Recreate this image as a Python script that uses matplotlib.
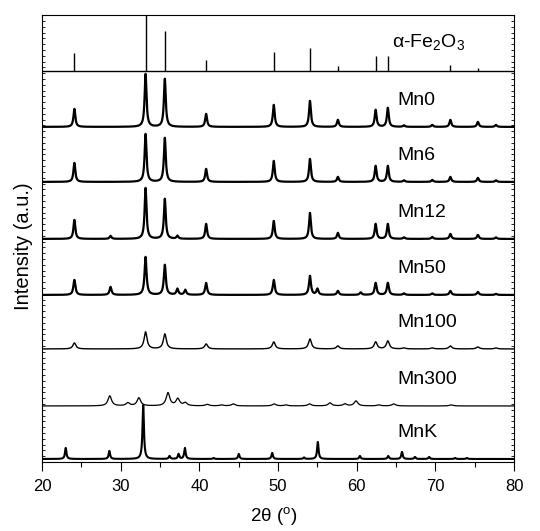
import numpy as np
import matplotlib
matplotlib.use("Agg")
import matplotlib.pyplot as plt
from matplotlib.ticker import MultipleLocator, NullLocator

plt.rcParams['font.family'] = ['Liberation Sans', 'DejaVu Sans']
plt.rcParams['mathtext.fontset'] = 'custom'
plt.rcParams['mathtext.rm'] = 'Liberation Sans'
plt.rcParams['mathtext.it'] = 'Liberation Sans:italic'

# reference stick pattern for alpha-Fe2O3 (2theta, relative intensity %)
ref_pos = [24.1, 33.15, 35.6, 40.85, 49.45, 54.05, 57.6, 62.4, 63.95, 71.9, 75.4]
ref_int = [32, 100, 72, 20, 34, 41, 9, 27, 26, 10, 5]

# measured patterns: peak positions, heights (a.u.), widths (deg)
samples = ["Mn0", "Mn6", "Mn12", "Mn50", "Mn100", "Mn300", "MnK"]
offsets = [335, 280, 223, 167, 113, 56, 3]

hem_pos = [24.1, 33.15, 35.6, 40.85, 49.45, 54.05, 57.6, 62.4, 63.95, 66.0, 69.6, 71.9, 75.4, 77.7]

mn0_h = [18, 53, 48, 13, 22, 26, 7, 17, 19, 1.5, 2, 7, 5, 2]
mn6_h = [19, 48, 44, 13, 21, 23, 5, 16, 16, 1.5, 2, 5, 4, 1.5]
mn12_pos = hem_pos + [28.7, 37.2]
mn12_h = [19, 51, 40, 15, 18, 26, 6, 15, 15, 1.5, 2, 5, 4, 1.5, 3, 3]
mn50_pos = hem_pos + [28.7, 37.2, 38.2, 55.0, 60.5]
mn50_h = [15, 38, 30, 12, 15, 19, 4, 12, 12, 1.5, 1.5, 4, 3, 1, 8, 6, 5, 6, 2.5]
mn100_h = [6, 17, 15, 5, 7, 10, 3, 7, 8, 1, 1, 3, 2, 1]

mn300_pos = [28.6, 30.9, 32.3, 36.0, 37.25, 38.2, 41.0, 42.8, 44.3, 49.5, 51.0,
             54.0, 56.6, 58.5, 59.9, 62.8, 64.7, 72.0]
mn300_h = [10, 3, 8, 13, 7, 3, 1.5, 1, 2, 2, 1, 2, 3, 2, 5, 1, 2, 1]

mnk_pos = [23.0, 28.55, 32.85, 36.2, 37.35, 38.15, 41.8, 45.0, 49.25, 53.3,
           55.05, 60.4, 64.0, 65.75, 67.4, 69.2, 72.5, 74.0]
mnk_h = [11, 8, 54, 3, 5, 11, 1, 5, 6, 1.5, 17, 3, 3, 7, 2, 2, 1, 1]

patterns = [
    (hem_pos, mn0_h, 0.28, 1.6),
    (hem_pos, mn6_h, 0.28, 1.6),
    (mn12_pos, mn12_h, 0.28, 1.6),
    (mn50_pos, mn50_h, 0.3, 1.6),
    (hem_pos, mn100_h, 0.45, 1.0),
    (mn300_pos, mn300_h, 0.55, 0.9),
    (mnk_pos, mnk_h, 0.22, 1.5),
]

ref_base = 391
ref_scale = 56 / 100.0

fig = plt.figure(figsize=(5.40, 5.31), dpi=100)
ax = fig.add_axes([0.078, 0.130, 0.874, 0.842])

tt = np.linspace(20, 80, 4000)
for name, off, (pos, h, w, lw) in zip(samples, offsets, patterns):
    y = np.zeros_like(tt)
    for p, a in zip(pos, h):
        y += a / (1 + ((tt - p) / (w / 2)) ** 2)
    ax.plot(tt, y + off, color='black', lw=lw)
    ax.text(65.1, off + 22, name, fontsize=14, va='baseline', ha='left')

# stick pattern
ax.vlines(ref_pos, ref_base, [ref_base + v * ref_scale for v in ref_int],
          color='black', lw=1.0)
ax.axhline(ref_base, color='black', lw=1.0)
ax.text(64.5, ref_base + 24, 'α-Fe$_{2}$O$_{3}$', fontsize=14, va='baseline', ha='left')

ax.set_xlim(20, 80)
ax.set_ylim(0, 447)
ax.xaxis.set_major_locator(MultipleLocator(10))
ax.xaxis.set_minor_locator(MultipleLocator(5))
ax.yaxis.set_major_locator(NullLocator())
ax.yaxis.set_minor_locator(MultipleLocator(5.8))
ax.tick_params(axis='x', which='major', direction='out', length=6.5, width=0.8,
               labelsize=12, pad=6, top=False)
ax.tick_params(axis='x', which='minor', direction='out', length=3.5, width=0.8, top=False)
ax.tick_params(axis='y', which='minor', direction='in', length=2, width=0.6, left=True, right=True)
for s in ax.spines.values():
    s.set_linewidth(0.8)

ax.set_xlabel('2θ ($^{\\rm o}$)', fontsize=13.5)
ax.xaxis.set_label_coords(0.49, -0.097)
ax.set_ylabel('Intensity (a.u.)', fontsize=14.5)
ax.yaxis.set_label_coords(-0.02, 0.482)

fig.savefig("out.png", dpi=100)
